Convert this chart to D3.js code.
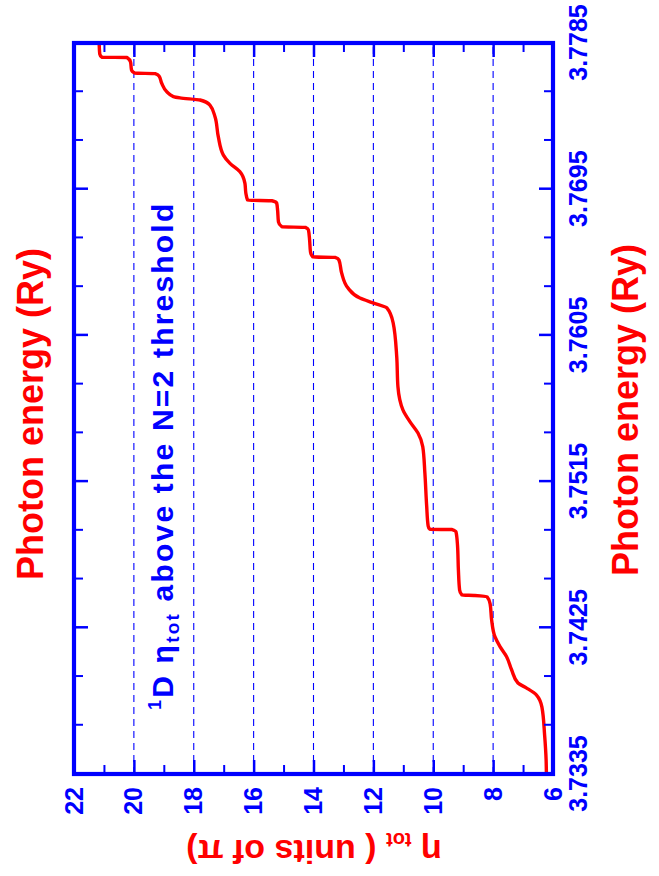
<!DOCTYPE html>
<html>
<head>
<meta charset="utf-8">
<script src="https://cdn.jsdelivr.net/npm/d3@7"></script>
<style>
  html, body { margin: 0; padding: 0; background: #fff; }
  svg { display: block; }
</style>
</head>
<body>
<svg id="chart" width="659" height="876"></svg>
<script>
// Total eigenphase sum (units of pi) of the 1D symmetry above the N=2 threshold
const energy = [
  3.7335, 3.73436, 3.7359, 3.73762, 3.73836, 3.73879, 3.7391, 3.7399, 3.74072, 3.74134,
  3.74195, 3.74298, 3.74397, 3.7444, 3.74449, 3.74452, 3.74483, 3.74606, 3.74759, 3.7484,
  3.74855, 3.74856, 3.74877, 3.75, 3.75203, 3.75365, 3.75449, 3.75519, 3.7559, 3.75734,
  3.75919, 3.76128, 3.76219, 3.7625, 3.7628, 3.76342, 3.76434, 3.76514, 3.7653, 3.76533,
  3.76563, 3.76637, 3.76699, 3.76715, 3.76718, 3.76748, 3.76822, 3.76865, 3.76879, 3.76882,
  3.76927, 3.76986, 3.77058, 3.77109, 3.7716, 3.77273, 3.77396, 3.77468, 3.77499, 3.77512,
  3.7752, 3.7755, 3.77602, 3.77647, 3.77662, 3.77664, 3.77684, 3.77733, 3.77761, 3.77762,
  3.77782, 3.7785
];
const etaTot = [
  6.22, 6.23, 6.28, 6.37, 6.55, 6.88, 7.17, 7.38, 7.55, 7.77,
  7.94, 8.05, 8.10, 8.20, 8.61, 9.04, 9.12, 9.16, 9.19, 9.24,
  9.37, 10.11, 10.17, 10.22, 10.28, 10.35, 10.51, 10.78, 11.01, 11.18,
  11.22, 11.34, 11.55, 12.01, 12.45, 12.85, 13.06, 13.15, 13.28, 14.02,
  14.10, 14.13, 14.17, 14.27, 15.05, 15.17, 15.20, 15.23, 15.39, 16.20,
  16.26, 16.29, 16.46, 16.79, 17.01, 17.18, 17.29, 17.46, 17.79, 18.46,
  18.68, 18.90, 19.07, 19.16, 19.29, 19.96, 20.08, 20.11, 20.23, 21.06,
  21.14, 21.16
];

const energyTicks = [3.7335, 3.7425, 3.7515, 3.7605, 3.7695, 3.7785];
const energyTickLabels = ["3.7335", "3.7425", "3.7515", "3.7605", "3.7695", "3.7785"];
const energyMinorTicks = [3.7365, 3.7395, 3.7455, 3.7485, 3.7545, 3.7575, 3.7635, 3.7665, 3.7725, 3.7755];
const etaTicks = [6, 8, 10, 12, 14, 16, 18, 20, 22];
const etaTickLabels = ["6", "8", "10", "12", "14", "16", "18", "20", "22"];
const etaMinorTicks = [7, 9, 11, 13, 15, 17, 19, 21];
const etaGrid = [8, 10, 12, 14, 16, 18, 20];

const BLUE = "#0000ff";
const RED = "#ff0000";
const FONT = "'Liberation Sans', Arial, Helvetica, sans-serif";

// The figure is laid out landscape (876 wide, 659 tall) and turned a quarter
// turn counter-clockwise onto the portrait page.
const PAGE_H = 876;
const svg = d3.select("#chart");
const g = svg.append("g").attr("transform", `translate(0,${PAGE_H}) rotate(-90)`);

const x = d3.scaleLinear().domain([3.7335, 3.7785]).range([102, 833]);
const y = d3.scaleLinear().domain([6, 22]).range([553, 74]);
const [x0, x1] = x.range();
const [yB, yT] = y.range();

// dashed guide lines at the even eta values
g.append("g")
  .selectAll("line")
  .data(etaGrid)
  .join("line")
  .attr("x1", x0).attr("x2", x1)
  .attr("y1", d => y(d)).attr("y2", d => y(d))
  .attr("stroke", BLUE)
  .attr("stroke-width", 1.1)
  .attr("stroke-dasharray", "7,5");

// eigenphase curve
g.append("clipPath").attr("id", "plot-clip")
  .append("rect").attr("x", x0).attr("y", yT).attr("width", x1 - x0).attr("height", yB - yT);

const line = d3.line()
  .x(d => x(d[0]))
  .y(d => y(d[1]))
  .curve(d3.curveMonotoneX);

g.append("path")
  .datum(energy.map((e, i) => [e, etaTot[i]]))
  .attr("clip-path", "url(#plot-clip)")
  .attr("fill", "none")
  .attr("stroke", RED)
  .attr("stroke-width", 3.4)
  .attr("stroke-linejoin", "round")
  .attr("d", line);

// axes: ticks point inward on every side
function styleAxis(sel, width) {
  sel.attr("color", BLUE);
  sel.select(".domain").remove();
  sel.selectAll(".tick line").attr("stroke-width", width);
  sel.selectAll(".tick text")
    .attr("font-family", FONT)
    .attr("font-weight", "bold")
    .attr("font-size", 25)
    .attr("fill", BLUE);
}

g.append("g").attr("transform", `translate(0,${yB})`)
  .call(d3.axisBottom(x).tickValues(energyTicks).tickSize(-14).tickPadding(16)
    .tickFormat((d, i) => energyTickLabels[i]))
  .call(s => styleAxis(s, 2.5));
g.append("g").attr("transform", `translate(0,${yB})`)
  .call(d3.axisBottom(x).tickValues(energyMinorTicks).tickSize(-9).tickFormat(""))
  .call(s => styleAxis(s, 2));

g.append("g").attr("transform", `translate(0,${yT})`)
  .call(d3.axisTop(x).tickValues(energyTicks).tickSize(-14).tickFormat(""))
  .call(s => styleAxis(s, 2.5));
g.append("g").attr("transform", `translate(0,${yT})`)
  .call(d3.axisTop(x).tickValues(energyMinorTicks).tickSize(-9).tickFormat(""))
  .call(s => styleAxis(s, 2));

g.append("g").attr("transform", `translate(${x0},0)`)
  .call(d3.axisLeft(y).tickValues(etaTicks).tickSize(-14).tickPadding(13)
    .tickFormat((d, i) => etaTickLabels[i]))
  .call(s => styleAxis(s, 2.5));
g.append("g").attr("transform", `translate(${x0},0)`)
  .call(d3.axisLeft(y).tickValues(etaMinorTicks).tickSize(-9).tickFormat(""))
  .call(s => styleAxis(s, 2));

g.append("g").attr("transform", `translate(${x1},0)`)
  .call(d3.axisRight(y).tickValues(etaTicks).tickSize(-14).tickFormat(""))
  .call(s => styleAxis(s, 2.5));
g.append("g").attr("transform", `translate(${x1},0)`)
  .call(d3.axisRight(y).tickValues(etaMinorTicks).tickSize(-9).tickFormat(""))
  .call(s => styleAxis(s, 2));

// frame
g.append("rect")
  .attr("x", x0).attr("y", yT)
  .attr("width", x1 - x0).attr("height", yB - yT)
  .attr("fill", "none")
  .attr("stroke", BLUE)
  .attr("stroke-width", 4.2);

// titles
g.append("text")
  .attr("x", 462).attr("y", 43)
  .attr("text-anchor", "middle")
  .attr("font-family", FONT).attr("font-weight", "bold").attr("font-size", 36)
  .attr("fill", RED)
  .text("Photon energy (Ry)");

g.append("text")
  .attr("x", 466).attr("y", 638)
  .attr("text-anchor", "middle")
  .attr("font-family", FONT).attr("font-weight", "bold").attr("font-size", 36)
  .attr("fill", RED)
  .text("Photon energy (Ry)");

const yLabel = g.append("text")
  .attr("transform", `translate(36,314) rotate(-90)`)
  .attr("text-anchor", "middle")
  .attr("font-family", FONT).attr("font-weight", "bold").attr("font-size", 34)
  .attr("fill", RED);
yLabel.append("tspan").text("\u03b7 ");
yLabel.append("tspan").attr("font-size", 20).attr("dy", 7).text("tot");
yLabel.append("tspan").attr("dy", -7).text(" ( units of \u03c0)");

// annotation inside the frame
const note = g.append("text")
  .attr("x", 166).attr("y", 173)
  .attr("font-family", FONT).attr("font-weight", "bold").attr("font-size", 30)
  .attr("letter-spacing", 2.2)
  .attr("fill", BLUE);
note.append("tspan").attr("font-size", 18).attr("dy", -12).text("1");
note.append("tspan").attr("dy", 12).text("D  \u03b7");
note.append("tspan").attr("font-size", 19).attr("dy", 6).text("tot");
note.append("tspan").attr("dy", -6).text(" above the N=2 threshold");
</script>
</body>
</html>
